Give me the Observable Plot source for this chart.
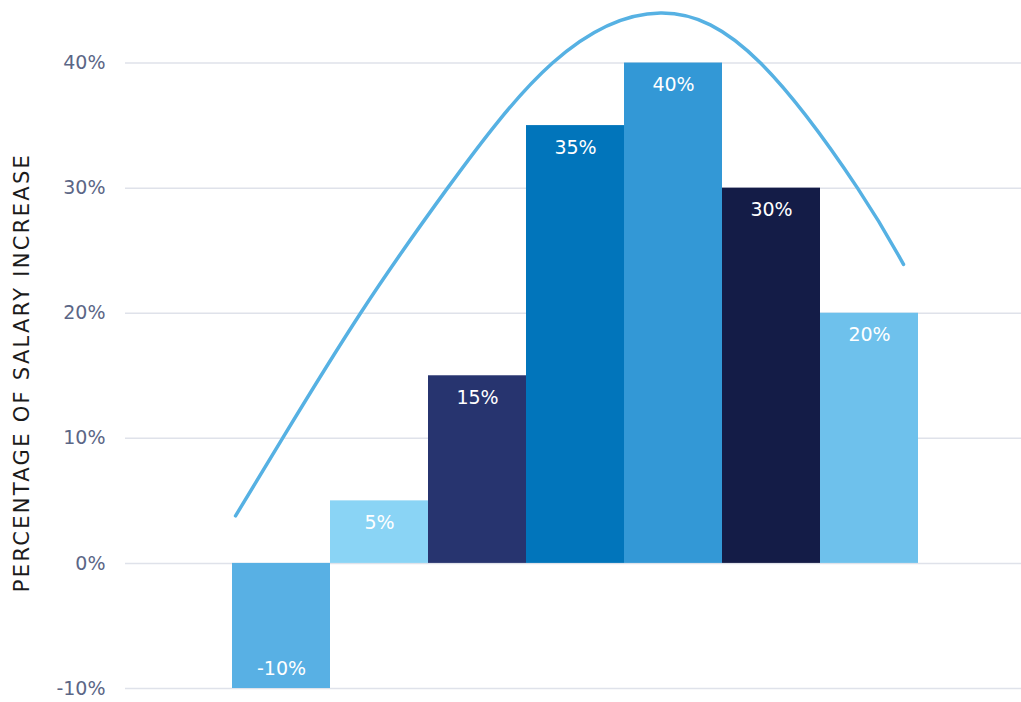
<!DOCTYPE html>
<html>
<head>
<meta charset="utf-8">
<script src="https://cdn.jsdelivr.net/npm/d3@7"></script>
<script src="https://cdn.jsdelivr.net/npm/@observablehq/plot@0.6"></script>
<style>
  html, body { margin: 0; padding: 0; background: #fff; }
  #chart svg { display: block; }
</style>
</head>
<body>
<div id="chart"></div>
<script>
// Bars (position 1..7, left to right)
const barPositions = [1, 2, 3, 4, 5, 6, 7];
const barValues = [-10, 5, 15, 35, 40, 30, 20];
const barColors = ["#58b0e4", "#8ad4f5", "#27346f", "#0175bb", "#3398d6", "#141c47", "#6ec1ec"];

// Trend curve (position in bar units, percent)
const curveX = [0.531, 1.010, 1.806, 2.694, 3.765, 4.867, 5.888, 6.878, 7.347];
const curveY = [3.8, 10.0, 20.0, 30.0, 40.0, 44.0, 40.0, 30.0, 23.9];

// Axis
const yTicks = [-10, 0, 10, 20, 30, 40];
const yTitle = "PERCENTAGE OF SALARY INCREASE";

const bars = barPositions.map((p, i) => ({pos: p, value: barValues[i], color: barColors[i]}));
const curve = curveX.map((x, i) => ({x, y: curveY[i]}));

const font = "'DejaVu Sans', sans-serif";

const chart = Plot.plot({
  width: 1021,
  height: 702,
  marginTop: 0,
  marginBottom: 14,
  marginLeft: 125,
  marginRight: 0,
  style: {fontFamily: font, background: "#fff"},
  x: {type: "linear", domain: [0.5, 7.5], range: [232, 918], axis: null},
  y: {domain: [-10, 45], axis: null},
  color: {type: "identity"},
  marks: [
    Plot.ruleY(yTicks, {stroke: "#dfe2ea", strokeWidth: 1.5}),
    Plot.text(yTicks, {
      frameAnchor: "left", y: d => d, text: d => d + "%",
      dx: -20, textAnchor: "end", fontSize: 19, fill: "#5b6686"
    }),
    Plot.rectY(bars, {x1: d => d.pos - 0.5, x2: d => d.pos + 0.5, y1: 0, y2: "value", fill: "color"}),
    Plot.text(bars.filter(d => d.value >= 0), {
      x: "pos", y: "value", text: d => d.value + "%", dy: 22, fill: "#fff", fontSize: 19
    }),
    Plot.text(bars.filter(d => d.value < 0), {
      x: "pos", y: "value", text: d => d.value + "%", dy: -20, fill: "#fff", fontSize: 19
    }),
    Plot.line(curve, {x: "x", y: "y", curve: "natural", stroke: "#56b1e3", strokeWidth: 3.5}),
    Plot.text([yTitle], {
      frameAnchor: "left", rotate: -90, dx: -103, dy: 28, textAnchor: "middle",
      fontSize: 21, fill: "#1b1b1b"
    })
  ]
});

d3.select(chart).selectAll("text")
  .filter(function() { return this.textContent === yTitle; })
  .style("letter-spacing", "2.3px");

document.getElementById("chart").appendChild(chart);
</script>
</body>
</html>
